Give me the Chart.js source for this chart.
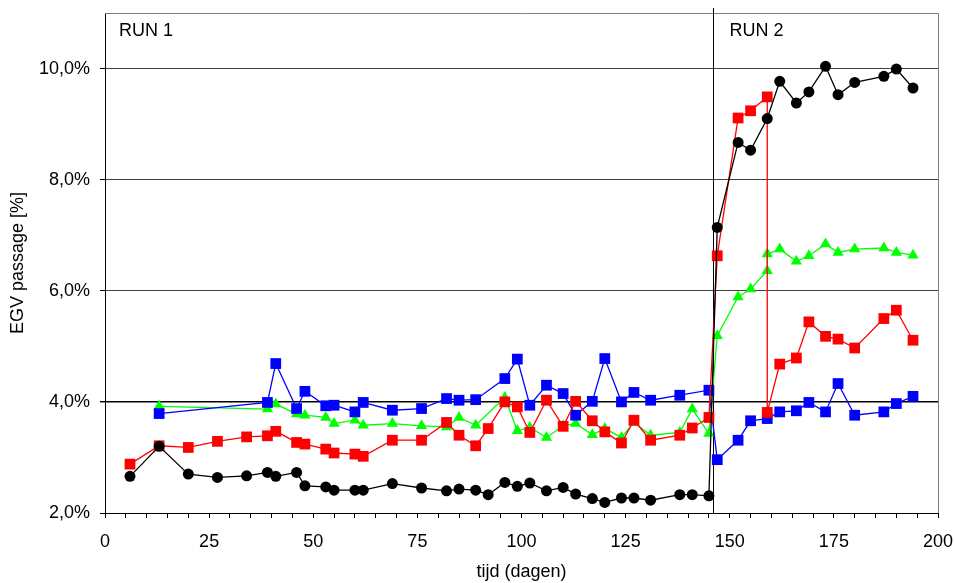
<!DOCTYPE html>
<html lang="nl">
<head>
<meta charset="utf-8">
<title>EGV passage</title>
<script src="https://cdn.jsdelivr.net/npm/chart.js@4.4.1/dist/chart.umd.min.js"></script>
<style>
  html, body { margin: 0; padding: 0; background: #fff; }
  #wrap { width: 955px; height: 583px; }
</style>
</head>
<body>
<div id="wrap"><canvas id="grafiek" width="955" height="583"></canvas></div>
<script>
// ---- Meetdata (tijd in dagen, EGV passage in %) ----

const dagenZwart = [6, 13, 20, 27, 34, 39, 41, 46, 48, 53, 55, 60, 62, 69, 76, 82, 85, 89, 92, 96, 99, 102, 106, 110, 113, 117, 120, 124, 127, 131, 138, 141, 145,
  147, 152, 155, 159, 162, 166, 169, 173, 176, 180, 187, 190, 194];
const egvZwart = [2.66, 3.20, 2.70, 2.64, 2.67, 2.73, 2.66, 2.73, 2.49, 2.47, 2.41, 2.41, 2.41, 2.53, 2.45, 2.40, 2.43, 2.41, 2.33, 2.55, 2.48, 2.54, 2.40, 2.46, 2.34, 2.26, 2.19, 2.27, 2.27, 2.23, 2.33, 2.33, 2.31,
  7.14, 8.67, 8.53, 9.10, 9.77, 9.38, 9.58, 10.04, 9.53, 9.75, 9.86, 9.99, 9.65];

const dagenRood = [6, 13, 20, 27, 34, 39, 41, 46, 48, 53, 55, 60, 62, 69, 76, 82, 85, 89, 92, 96, 99, 102, 106, 110, 113, 117, 120, 124, 127, 131, 138, 141, 145,
  147, 152, 155, 159, 159, 162, 166, 169, 173, 176, 180, 187, 190, 194];
const egvRood = [2.88, 3.21, 3.18, 3.29, 3.37, 3.39, 3.47, 3.27, 3.24, 3.15, 3.08, 3.06, 3.02, 3.31, 3.31, 3.63, 3.40, 3.21, 3.52, 4.00, 3.91, 3.45, 4.03, 3.56, 4.01, 3.66, 3.46, 3.26, 3.67, 3.31, 3.40, 3.53, 3.72,
  6.63, 9.11, 9.24, 9.49, 3.81, 4.68, 4.79, 5.44, 5.18, 5.13, 4.97, 5.50, 5.65, 5.11];

const dagenBlauw = [13, 39, 41, 46, 48, 53, 55, 60, 62, 69, 76, 82, 85, 89, 96, 99, 102, 106, 110, 113, 117, 120, 124, 127, 131, 138, 145,
  147, 152, 155, 159, 162, 166, 169, 173, 176, 180, 187, 190, 194];
const egvBlauw = [3.79, 3.99, 4.69, 3.88, 4.19, 3.93, 3.94, 3.82, 3.99, 3.85, 3.88, 4.06, 4.03, 4.04, 4.42, 4.77, 3.94, 4.30, 4.15, 3.76, 4.01, 4.78, 4.00, 4.17, 4.03, 4.12, 4.21,
  2.96, 3.31, 3.66, 3.70, 3.82, 3.84, 3.99, 3.82, 4.33, 3.76, 3.82, 3.97, 4.10];

const dagenGroen = [13, 39, 41, 46, 48, 53, 55, 60, 62, 69, 76, 82, 85, 89, 96, 99, 102, 106, 110, 113, 117, 120, 124, 127, 131, 138, 141, 145,
  147, 152, 155, 159, 159, 162, 166, 169, 173, 176, 180, 187, 190, 194];
const egvGroen = [3.92, 3.87, 3.96, 3.78, 3.76, 3.72, 3.61, 3.67, 3.58, 3.61, 3.57, 3.55, 3.72, 3.58, 4.08, 3.48, 3.54, 3.36, 3.57, 3.61, 3.41, 3.52, 3.36, 3.63, 3.40, 3.45, 3.87, 3.43,
  5.19, 5.89, 6.03, 6.36, 6.66, 6.75, 6.53, 6.63, 6.84, 6.69, 6.75, 6.77, 6.69, 6.64];

// Start of run 2 (day) and axis ticks
const RUN_GRENS = 146;
const yTickWaarden = [2, 4, 6, 8, 10];
const xTickWaarden = [];
for (let d = 0; d <= 200; d += 5) xTickWaarden.push(d);

// ---- Helpers ----

const FONT = '"Liberation Sans", Arial, sans-serif';

function punten(dagen, waarden) {
  return dagen.map((d, i) => ({ x: d, y: waarden[i] }));
}

function reeks(label, dagen, waarden, kleur, vorm, straal) {
  return {
    label,
    data: punten(dagen, waarden),
    showLine: true,
    borderColor: kleur,
    borderWidth: 1.3,
    backgroundColor: kleur,
    pointStyle: vorm,
    pointRadius: straal,
    pointBorderWidth: 0,
    pointBackgroundColor: kleur,
    tension: 0,
  };
}

function procent(v) {
  return v.toFixed(1).replace('.', ',') + '%';
}

// keep the plot box where the layout padding puts it (no extra room for edge labels)
function geenLabelRuimte(s) {
  s.paddingTop = 0;
  s.paddingBottom = 0;
  s.paddingLeft = 0;
  s.paddingRight = 0;
}

// ---- Frame, run boundary and run labels ----

const runPlugin = {
  id: 'runs',
  beforeDatasetsDraw(chart) {
    const { ctx, chartArea: a, scales: { x } } = chart;
    ctx.save();
    ctx.lineWidth = 1;

    // grey frame on top and right of the plot
    ctx.strokeStyle = '#808080';
    ctx.beginPath();
    ctx.moveTo(a.left, Math.round(a.top) + 0.5);
    ctx.lineTo(Math.round(a.right) + 0.5, Math.round(a.top) + 0.5);
    ctx.lineTo(Math.round(a.right) + 0.5, a.bottom);
    ctx.stroke();

    // vertical line between run 1 and run 2
    const gx = Math.round(x.getPixelForValue(RUN_GRENS)) + 0.5;
    ctx.strokeStyle = '#000';
    ctx.beginPath();
    ctx.moveTo(gx, a.top - 5);
    ctx.lineTo(gx, a.bottom);
    ctx.stroke();

    ctx.fillStyle = '#000';
    ctx.font = '18px ' + FONT;
    ctx.textAlign = 'left';
    ctx.textBaseline = 'middle';
    ctx.fillText('RUN 1', a.left + 14, a.top + 18);
    ctx.fillText('RUN 2', gx + 16, a.top + 18);
    ctx.restore();
  },
};

// ---- Chart ----

Chart.defaults.font.family = FONT;
Chart.defaults.font.size = 18;
Chart.defaults.color = '#000';

new Chart(document.getElementById('grafiek'), {
  type: 'scatter',
  data: {
    datasets: [
      reeks('zwart', dagenZwart, egvZwart, '#000000', 'circle', 5.5),
      reeks('rood', dagenRood, egvRood, '#ff0000', 'rect', 7.6),
      reeks('blauw', dagenBlauw, egvBlauw, '#0000ff', 'rect', 7.6),
      reeks('groen', dagenGroen, egvGroen, '#00ff00', 'triangle', 6.5),
    ],
  },
  options: {
    responsive: false,
    animation: false,
    events: [],
    layout: { padding: { left: 0, top: 13, right: 17, bottom: 0 } },
    plugins: { legend: { display: false }, tooltip: { enabled: false } },
    scales: {
      x: {
        type: 'linear',
        min: 0,
        max: 200,
        afterBuildTicks: s => { s.ticks = xTickWaarden.map(v => ({ value: v })); },
        afterFit: s => { s.height = 70; geenLabelRuimte(s); },
        ticks: {
          autoSkip: false,
          maxRotation: 0,
          padding: 13,
          callback: v => (v % 25 === 0 ? String(v) : ''),
        },
        grid: { drawOnChartArea: false, drawTicks: true, tickLength: 5, color: '#000' },
        border: { color: '#000', width: 1 },
        title: { display: true, text: 'tijd (dagen)', padding: { top: 0, bottom: 0 } },
      },
      y: {
        type: 'linear',
        min: 2,
        max: 11,
        afterBuildTicks: s => { s.ticks = yTickWaarden.map(v => ({ value: v })); },
        afterFit: s => { s.width = 105; geenLabelRuimte(s); },
        ticks: { padding: 10, callback: v => procent(v) },
        grid: {
          drawTicks: true,
          tickLength: 5,
          color: c => (c.tick && c.tick.value === 4 ? '#000' : '#404040'),
          lineWidth: c => (c.tick && c.tick.value === 4 ? 1.4 : 1),
          tickColor: '#000',
        },
        border: { color: '#000', width: 1 },
        title: { display: true, text: 'EGV passage [%]', padding: { top: 7, bottom: 0 } },
      },
    },
  },
  plugins: [runPlugin],
});
</script>
</body>
</html>
